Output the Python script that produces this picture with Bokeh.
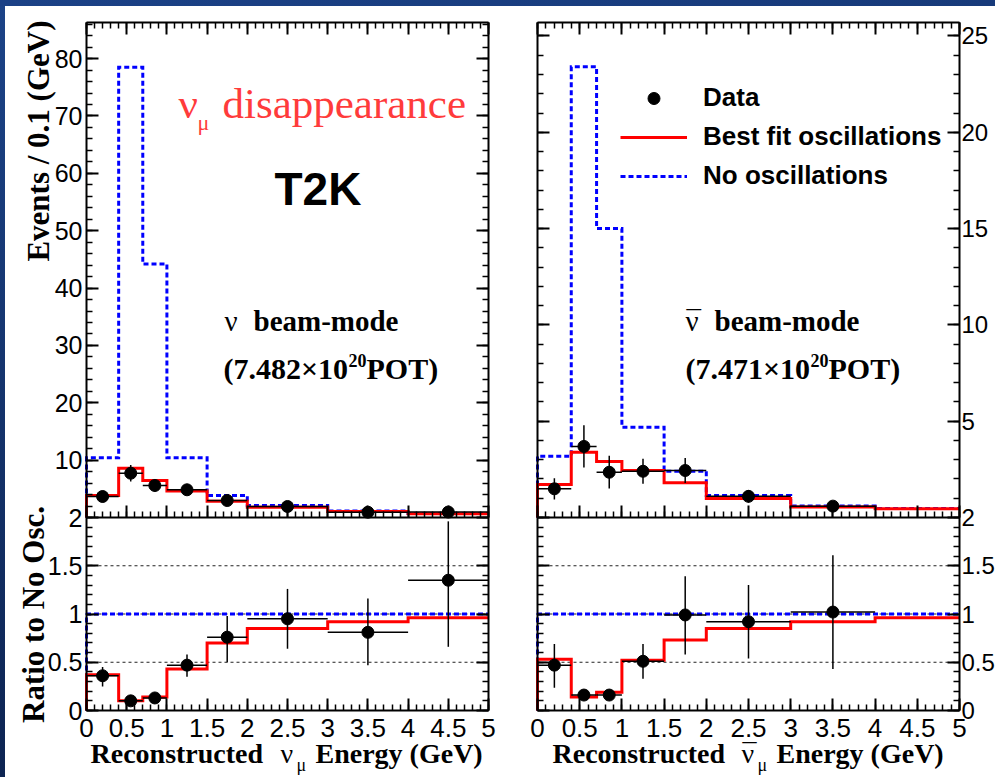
import numpy as np
from bokeh.plotting import figure
from bokeh.models import (Range1d, LinearAxis, SingleIntervalTicker, FixedTicker, Label, Legend,
                          LegendItem, Spacer, CustomJSTickFormatter)
from bokeh.layouts import row, column
from bokeh.embed import file_html
from bokeh.resources import INLINE

# ---------------- data ----------------
bin_edges = [0.0, 0.4, 0.7, 1.0, 1.5, 2.0, 3.0, 4.0, 5.0]          # GeV
bin_centers = [0.2, 0.55, 0.85, 1.25, 1.75, 2.5, 3.5, 4.5]

# neutrino beam-mode, events / 0.1 GeV
nu_no_osc = [10.4, 78.5, 44.2, 10.4, 3.84, 2.09, 1.13, 0.70]
nu_best_fit = [3.84, 8.6, 6.45, 4.6, 2.84, 1.8, 1.04, 0.67]
nu_data = [3.66, 7.72, 5.58, 4.83, 2.96, 1.92, 0.92, 0.95]
nu_data_err = [1.0, 1.45, 1.1, 0.95, 0.75, 0.45, 0.3, 0.3]
# neutrino ratio to no oscillation
nu_ratio_best_fit = [0.37, 0.10, 0.14, 0.43, 0.70, 0.85, 0.92, 0.96]
nu_ratio_no_osc = [1.0, 1.0, 1.0, 1.0, 1.0, 1.0, 1.0, 1.0]
nu_ratio_data = [0.36, 0.10, 0.13, 0.47, 0.76, 0.95, 0.81, 1.35]
nu_ratio_lo = [0.25, 0.08, 0.11, 0.35, 0.50, 0.64, 0.47, 0.66]
nu_ratio_hi = [0.45, 0.12, 0.16, 0.58, 0.98, 1.26, 1.16, 1.96]

# antineutrino beam-mode, events / 0.1 GeV
anu_no_osc = [3.18, 23.4, 15.0, 4.69, 2.40, 1.14, 0.60, 0.47]
anu_best_fit = [1.71, 3.39, 2.91, 2.44, 1.80, 0.98, 0.55, 0.45]
anu_data = [1.49, 3.69, 2.35, 2.40, 2.44, 1.10, 0.59]
anu_data_err = [0.55, 1.1, 0.85, 0.65, 0.65, 0.33, 0.25]
# antineutrino ratio to no oscillation
anu_ratio_best_fit = [0.53, 0.14, 0.19, 0.52, 0.73, 0.85, 0.92, 0.96]
anu_ratio_no_osc = [1.0, 1.0, 1.0, 1.0, 1.0, 1.0, 1.0, 1.0]
anu_ratio_data = [0.47, 0.16, 0.16, 0.51, 0.99, 0.92, 1.02]
anu_ratio_lo = [0.235, 0.13, 0.13, 0.33, 0.58, 0.54, 0.43]
anu_ratio_hi = [0.69, 0.19, 0.19, 0.69, 1.39, 1.30, 1.61]

ratio_grid_values = [0.5, 1.0, 1.5]
ratio_major_ticks = [0.0, 0.5, 1.0, 1.5, 2.0]
legend_labels = ["Data", "Best fit oscillations", "No oscillations"]

# ---------------- geometry (window pixels) ----------------
WIN_W, WIN_H = 995, 777
BAND_TOP, BAND_LEFT = 6, 5
FRAME_TOP, SPLIT, FRAME_BOTTOM = 22, 517, 710
LEFT_GEOM = (5, 510, 86, 488)     # figure x0, x1, panel left, panel right
RIGHT_GEOM = (510, 995, 537, 959)

SERIF = "Liberation Serif"
SANS = "Liberation Sans"
RED = "#ff0000"
BLUE = "#0000ff"
TXT_RED = "#ff3b3b"

PLAIN = "return String(Math.round(tick * 10) / 10);"


def hist_path(edges, vals):
    xs, ys = [edges[0]], [0.0]
    for i, v in enumerate(vals):
        xs += [edges[i], edges[i + 1]]
        ys += [v, v]
    return xs, ys


def style_axis(ax, show_labels, font_size="25px", standoff=4):
    ax.axis_line_color = "black"
    ax.axis_line_width = 2
    ax.major_tick_line_color = "black"
    ax.major_tick_line_width = 2
    ax.minor_tick_line_color = "black"
    ax.minor_tick_line_width = 1.5
    ax.major_tick_in = 12
    ax.major_tick_out = 0
    ax.minor_tick_in = 6
    ax.minor_tick_out = 0
    if show_labels:
        ax.major_label_text_font = SANS
        ax.major_label_text_font_size = font_size
        ax.major_label_text_color = "black"
        ax.major_label_standoff = standoff
    else:
        ax.major_label_text_font_size = "0px"
        ax.major_label_standoff = 0
        ax.major_label_text_alpha = 0


def make_panel(geom, ymax, ymajor, labels_left):
    x0, x1, fl, fr = geom
    sx = (fr - fl) / 5.0                       # px per GeV
    sy = (SPLIT - FRAME_TOP) / ymax            # px per event unit
    sr = (FRAME_BOTTOM - SPLIT) / 2.0          # px per ratio unit
    k = sr / sy                                # event units per ratio unit
    p = figure(width=x1 - x0, height=WIN_H - BAND_TOP,
               x_range=Range1d(-(fl - x0) / sx, 5 + (x1 - fr) / sx),
               y_range=Range1d(-(WIN_H - SPLIT) / sy, ymax + (FRAME_TOP - BAND_TOP) / sy),
               x_axis_location=None, y_axis_location=None,
               output_backend="svg", toolbar_location=None,
               min_border_left=0, min_border_right=0, min_border_top=0, min_border_bottom=0)
    p.extra_y_ranges = {"ratio": Range1d(-(WIN_H - FRAME_BOTTOM) / sr,
                                         2 + (SPLIT - BAND_TOP) / sr)}
    p.xgrid.visible = False
    p.ygrid.visible = False
    p.outline_line_color = None
    p.border_fill_color = "white"
    p.background_fill_color = "white"

    ratio_zero = -2 * k

    def xt():
        return SingleIntervalTicker(interval=0.5, num_minor_ticks=5)

    # bottom x axis with labels (bottom of ratio panel)
    xb = LinearAxis(ticker=xt(), formatter=CustomJSTickFormatter(code=PLAIN),
                    fixed_location=ratio_zero, bounds=(0, 5))
    style_axis(xb, True, "26px", 8)
    p.add_layout(xb, "below")
    # top of upper panel
    xa = LinearAxis(ticker=xt(), fixed_location=ymax, bounds=(0, 5))
    style_axis(xa, False)
    p.add_layout(xa, "above")
    # separator between upper panel and ratio panel
    xm = LinearAxis(ticker=xt(), fixed_location=0, bounds=(0, 5))
    style_axis(xm, False)
    p.add_layout(xm, "below")

    n_major = int(ymax // ymajor)
    main_major = [ymajor * i for i in range(1, n_major + 1)]
    step_minor = ymajor / 5.0
    main_minor = [step_minor * i for i in range(1, int(ymax // step_minor) + 1)]
    r_major = [(r - 2.0) * k for r in ratio_major_ticks]
    r_minor = [(0.1 * i - 2.0) * k for i in range(0, 21)]
    fmt_code = ("if (tick > 1e-6) { return String(Math.round(tick * 10) / 10); } "
                "const r = 2 + tick / k; return String(Math.round(r * 10) / 10);")

    def yt():
        return FixedTicker(ticks=r_major + main_major, minor_ticks=r_minor + main_minor)

    yl = LinearAxis(ticker=yt(), formatter=CustomJSTickFormatter(args=dict(k=k), code=fmt_code),
                    fixed_location=0, bounds=(ratio_zero, ymax))
    style_axis(yl, labels_left, "25px", 4)
    p.add_layout(yl, "left")
    yr = LinearAxis(ticker=yt(), formatter=CustomJSTickFormatter(args=dict(k=k), code=fmt_code),
                    fixed_location=5, bounds=(ratio_zero, ymax))
    style_axis(yr, not labels_left, "24px", 2)
    p.add_layout(yr, "right")

    # dotted reference lines of the ratio panel
    n = len(ratio_grid_values)
    p.segment(x0=[bin_edges[0]] * n, x1=[bin_edges[-1]] * n, y0=ratio_grid_values,
              y1=ratio_grid_values, line_color="#222222", line_width=1, line_dash="3 3",
              y_range_name="ratio", level="underlay")
    return p


def draw(p, no_osc, best, data, err, r_best, r_no, r_data, r_lo, r_hi):
    n = len(data)
    c = bin_centers[:n]
    bx, by = hist_path(bin_edges, no_osc)
    blue = p.line(bx, by, line_color=BLUE, line_width=3, line_dash="5 3", line_join="miter")
    rx, ry = hist_path(bin_edges, best)
    red = p.line(rx, ry, line_color=RED, line_width=3, line_join="miter")
    p.segment(x0=bin_edges[:n], x1=bin_edges[1:n + 1], y0=data, y1=data,
              line_color="black", line_width=1.5)
    lo = [d - e for d, e in zip(data, err)]
    hi = [d + e for d, e in zip(data, err)]
    p.segment(x0=c, x1=c, y0=lo, y1=hi, line_color="black", line_width=1.5)
    pts = p.scatter(c, data, size=12, color="black")

    rbx, rby = hist_path(bin_edges, r_no)
    p.line(rbx, rby, line_color=BLUE, line_width=3, line_dash="5 3", y_range_name="ratio")
    rrx, rry = hist_path(bin_edges, r_best)
    p.line(rrx, rry, line_color=RED, line_width=3, line_join="miter", y_range_name="ratio")
    m = len(r_data)
    cr = bin_centers[:m]
    p.segment(x0=bin_edges[:m], x1=bin_edges[1:m + 1], y0=r_data, y1=r_data,
              line_color="black", line_width=1.5, y_range_name="ratio")
    p.segment(x0=cr, x1=cr, y0=r_lo, y1=r_hi, line_color="black", line_width=1.5,
              y_range_name="ratio")
    p.scatter(cr, r_data, size=12, color="black", y_range_name="ratio")
    return pts, red, blue


def add_text(p, geom, ymax, px, py, text, font, size, style="normal", color="black",
             align="left", angle=0.0):
    """(px, py): window pixel of the text's alphabetic baseline (start / end per align)."""
    x0, x1, fl, fr = geom
    if angle == 0.0:
        py = py - 0.32 * size        # anchor on the vertical middle of the text
    else:
        px = px - 0.32 * size        # rotated 90 deg: middle lies left of the baseline
    x = (px - fl) / (fr - fl) * 5.0
    y = (SPLIT - py) / (SPLIT - FRAME_TOP) * ymax
    p.add_layout(Label(x=x, y=y, text=text, text_font=font, text_font_size=f"{size}px",
                       text_font_style=style, text_color=color, text_align=align,
                       text_baseline="middle", angle=angle))


# ---------------- left: neutrino beam-mode ----------------
YMAX_L = 86.3
pL = make_panel(LEFT_GEOM, YMAX_L, 10, True)
draw(pL, nu_no_osc, nu_best_fit, nu_data, nu_data_err,
     nu_ratio_best_fit, nu_ratio_no_osc, nu_ratio_data, nu_ratio_lo, nu_ratio_hi)

TL = lambda *a, **k: add_text(pL, LEFT_GEOM, YMAX_L, *a, **k)
TL(178, 117, "ν", SERIF, 43, color=TXT_RED)
TL(197, 129, "μ", SERIF, 22, color=TXT_RED)
TL(222, 117, "disappearance", SERIF, 43, color=TXT_RED)
TL(274, 203, "T2K", SANS, 46, style="bold")
TL(224, 330, "ν", SERIF, 29)
TL(253, 330, "beam-mode", SERIF, 29, style="bold")
TL(223, 378, "(7.482×10", SERIF, 30, style="bold")
TL(348, 366, "20", SERIF, 18, style="bold")
TL(366, 378, "POT)", SERIF, 30, style="bold")
TL(48, 20, "Events / 0.1 (GeV)", SERIF, 31, style="bold", align="right", angle=np.pi / 2)
TL(43, 614, "Ratio to No Osc.", SERIF, 31, style="bold", align="center", angle=np.pi / 2)
TL(90, 762, "Reconstructed", SERIF, 28, style="bold")
TL(280, 762, "ν", SERIF, 28)
TL(296, 770, "μ", SERIF, 18)
TL(315, 762, "Energy (GeV)", SERIF, 28, style="bold")

# ---------------- right: antineutrino beam-mode ----------------
YMAX_R = 25.7
pR = make_panel(RIGHT_GEOM, YMAX_R, 5, False)
pts, red, blue = draw(pR, anu_no_osc, anu_best_fit, anu_data, anu_data_err,
                      anu_ratio_best_fit, anu_ratio_no_osc, anu_ratio_data, anu_ratio_lo,
                      anu_ratio_hi)

legend = Legend(items=[LegendItem(label=legend_labels[0], renderers=[pts]),
                       LegendItem(label=legend_labels[1], renderers=[red]),
                       LegendItem(label=legend_labels[2], renderers=[blue])],
                location=(620 - RIGHT_GEOM[0], WIN_H - 191), border_line_color=None,
                background_fill_alpha=0, label_text_font=SANS, label_text_font_style="bold",
                label_text_font_size="26px", label_text_color="black",
                glyph_width=67, glyph_height=30, label_height=30, label_standoff=16,
                spacing=8, padding=0, margin=0)
pR.add_layout(legend)

TR = lambda *a, **k: add_text(pR, RIGHT_GEOM, YMAX_R, *a, **k)
TR(685, 330, "ν", SERIF, 29)
TR(686, 330, "¯", SERIF, 29)
TR(714, 330, "beam-mode", SERIF, 29, style="bold")
TR(685, 378, "(7.471×10", SERIF, 30, style="bold")
TR(810, 366, "20", SERIF, 18, style="bold")
TR(828, 378, "POT)", SERIF, 30, style="bold")
TR(552, 762, "Reconstructed", SERIF, 28, style="bold")
TR(741, 762, "ν", SERIF, 28)
TR(742, 762, "¯", SERIF, 28)
TR(757, 770, "μ", SERIF, 18)
TR(776, 762, "Energy (GeV)", SERIF, 28, style="bold")

# ---------------- page ----------------
top_band = Spacer(width=WIN_W, height=BAND_TOP,
                  styles={"background": "linear-gradient(90deg, #1b4186, #173a7a)"})
left_band = Spacer(width=BAND_LEFT, height=WIN_H - BAND_TOP,
                   styles={"background": "linear-gradient(180deg, #1c4387, #0d2452)"})
layout = column(top_band, row(left_band, pL, pR, spacing=0), spacing=0)

open("out.html", "w").write(file_html(layout, INLINE, title="T2K numu disappearance"))
